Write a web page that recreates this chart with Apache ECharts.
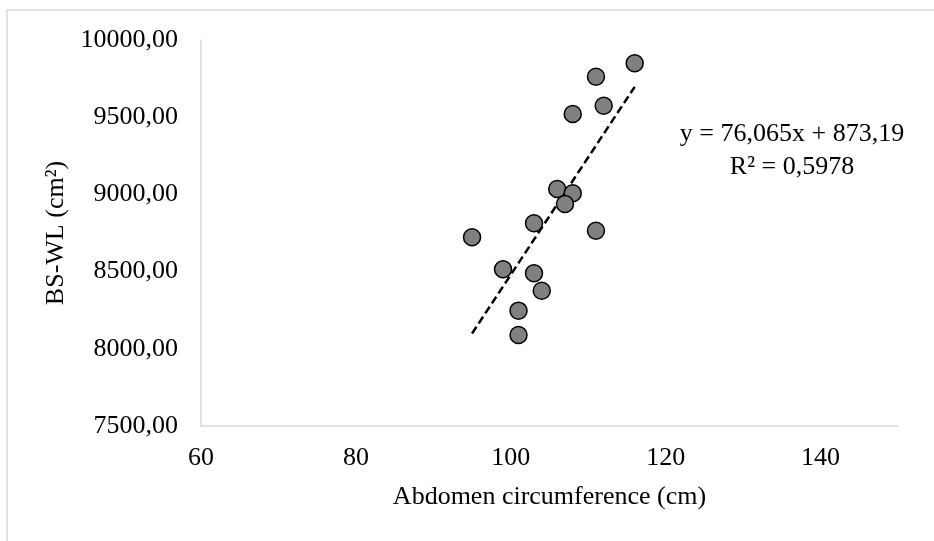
<!DOCTYPE html>
<html>
<head>
<meta charset="utf-8">
<script src="https://cdn.jsdelivr.net/npm/echarts@6/dist/echarts.min.js"></script>
<style>
  html, body { margin: 0; padding: 0; background: #fff; }
  #chart { width: 934px; height: 541px; }
</style>
</head>
<body>
<div id="chart"></div>
<script>
  // abdomen circumference (cm)
  const abdomen = [116, 111, 112, 108, 106, 108, 107, 103, 95, 111, 99, 103, 104, 101, 101]
  // BS-WL (cm²)
  const bsWl = [9849, 9762, 9574, 9521, 9035, 9007, 8938, 8813, 8722, 8765, 8515, 8489, 8376, 8247, 8089]
  // linear trendline end points
  const trendX = [95, 116]
  const trendY = [8099.37, 9696.73]
  const equationLines = ['y = 76,065x + 873,19', 'R² = 0,5978']

  const font = '"Liberation Serif", "Times New Roman", serif'
  const chart = echarts.init(document.getElementById('chart'))

  const points = abdomen.map((x, i) => [x, bsWl[i]])
  const trend = trendX.map((x, i) => [x, trendY[i]])

  chart.setOption({
    animation: false,
    grid: { left: 201, top: 40, right: 36, bottom: 115 },
    xAxis: {
      type: 'value',
      min: 60,
      max: 150,
      interval: 20,
      name: 'Abdomen circumference (cm)',
      nameLocation: 'middle',
      nameGap: 58,
      nameTextStyle: { fontFamily: font, fontSize: 26, color: '#000' },
      axisLine: { show: true, lineStyle: { color: '#d9d9d9', width: 1.5 } },
      axisTick: { show: false },
      splitLine: { show: false },
      axisLabel: {
        fontFamily: font, fontSize: 26, color: '#000', margin: 19,
        formatter: v => (v > 140 ? '' : String(v))
      }
    },
    yAxis: {
      type: 'value',
      min: 7500,
      max: 10000,
      interval: 500,
      name: 'BS-WL (cm²)',
      nameLocation: 'middle',
      nameGap: 126,
      nameTextStyle: { fontFamily: font, fontSize: 26, color: '#000' },
      axisLine: { show: true, lineStyle: { color: '#d9d9d9', width: 1.5 } },
      axisTick: { show: false },
      splitLine: { show: false },
      axisLabel: {
        fontFamily: font, fontSize: 26, color: '#000', margin: 23,
        formatter: v => v.toFixed(2).replace('.', ',')
      }
    },
    graphic: [
      {
        type: 'rect',
        shape: { x: 7, y: 10, width: 940, height: 545 },
        style: { fill: 'none', stroke: '#d9d9d9', lineWidth: 1.5 },
        silent: true
      },
      {
        type: 'text',
        x: 792,
        y: 118,
        style: {
          text: equationLines.join('\n'),
          fontFamily: font,
          fontSize: 26,
          lineHeight: 33,
          align: 'center',
          verticalAlign: 'top',
          fill: '#000'
        }
      }
    ],
    series: [
      {
        type: 'line',
        data: trend,
        symbol: 'none',
        lineStyle: { color: '#000', width: 2.5, type: [8, 4] },
        z: 1
      },
      {
        type: 'scatter',
        data: points,
        symbol: 'circle',
        symbolSize: 17,
        itemStyle: { color: '#808080', borderColor: '#000', borderWidth: 1.5, opacity: 1 },
        z: 2
      }
    ]
  })
</script>
</body>
</html>
